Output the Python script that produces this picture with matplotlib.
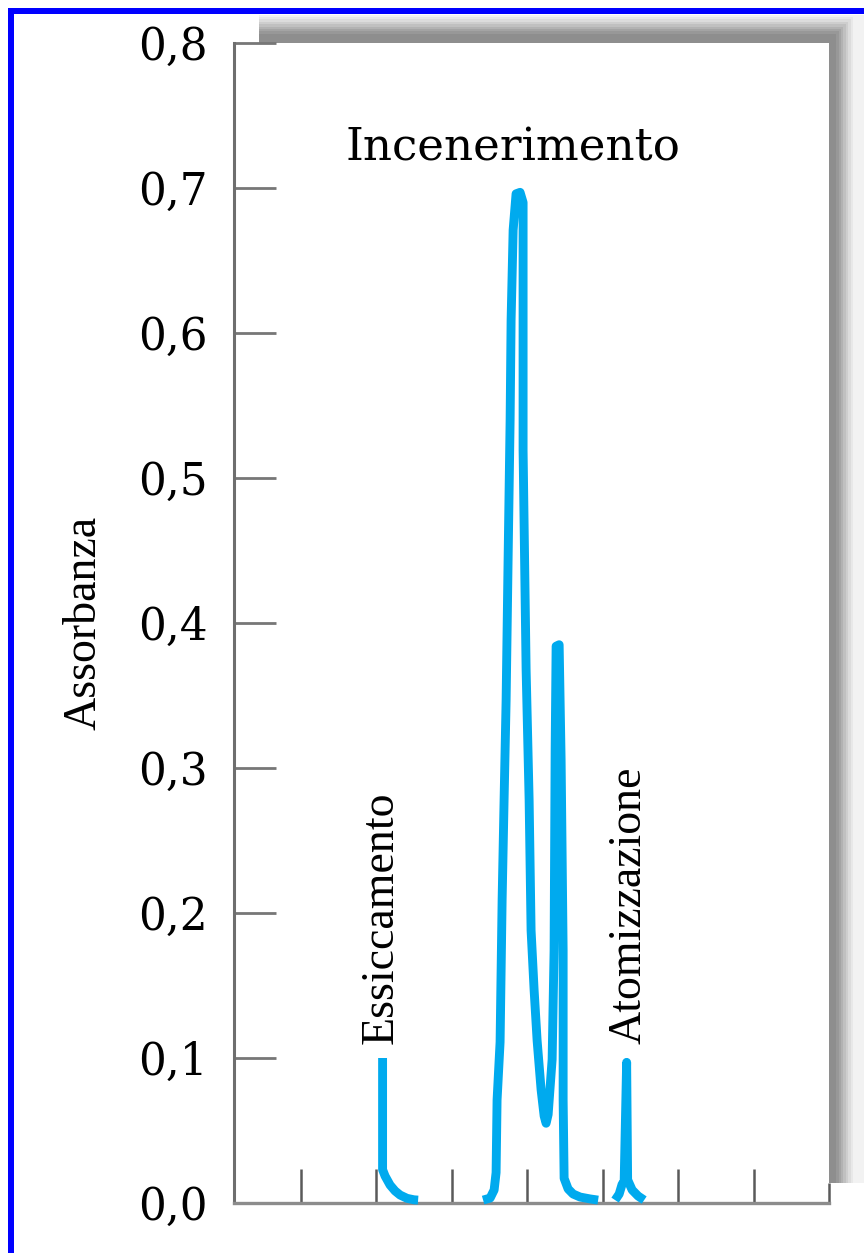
import matplotlib
matplotlib.use("Agg")
import matplotlib.pyplot as plt
from matplotlib.patches import Rectangle

# ---------------- data ----------------
# drying step (Essiccamento)
ess_x = [2.081, 2.081, 2.114, 2.180, 2.247, 2.313, 2.406, 2.499, 2.552]
ess_y = [0.100, 0.023, 0.0186, 0.0124, 0.0083, 0.0055, 0.0032, 0.0022, 0.002]

# ashing step (Incenerimento)
ash_x = [3.414, 3.507, 3.560, 3.586, 3.599, 3.639, 3.666, 3.692, 3.719, 3.745,
         3.772, 3.785, 3.812, 3.851, 3.904, 3.944, 3.944, 3.984, 4.024, 4.050,
         4.090, 4.130, 4.183, 4.223, 4.249, 4.276, 4.329, 4.355, 4.369, 4.382,
         4.422, 4.448, 4.475, 4.475, 4.488, 4.541, 4.607, 4.700, 4.833, 4.939]
ash_y = [0.002, 0.0034, 0.009, 0.021, 0.071, 0.111, 0.209, 0.278, 0.347, 0.443,
         0.540, 0.609, 0.671, 0.696, 0.697, 0.690, 0.519, 0.368, 0.278, 0.188,
         0.147, 0.112, 0.078, 0.060, 0.055, 0.061, 0.099, 0.174, 0.312, 0.384,
         0.385, 0.306, 0.174, 0.071, 0.017, 0.0097, 0.0062, 0.0041, 0.0028, 0.002]

# atomization step (Atomizzazione)
ato_x = [5.164, 5.218, 5.257, 5.284, 5.317, 5.330, 5.390, 5.469, 5.549]
ato_y = [0.002, 0.0062, 0.013, 0.0145, 0.097, 0.016, 0.009, 0.0048, 0.002]

x_ticks = [1, 2, 3, 4, 5, 6, 7]
x_end_tick = [8]
y_ticks = [0.0, 0.1, 0.2, 0.3, 0.4, 0.5, 0.6, 0.7, 0.8]
y_labels = ["0,0", "0,1", "0,2", "0,3", "0,4", "0,5", "0,6", "0,7", "0,8"]

title_text = "Incenerimento"
ylabel_text = "Assorbanza"
step_labels = ["Essiccamento", "Atomizzazione"]

# ---------------- figure ----------------
W, H = 864, 1253
fig = plt.figure(figsize=(W / 100, H / 100), dpi=100)
fig.patch.set_facecolor("white")


def fx(px):
    return px / W


def fy(py):
    return 1 - py / H


def frect(x0, y0, x1, y1, color, z):
    """rectangle from pixel coords (top-left origin)"""
    r = Rectangle((fx(x0), fy(y1)), fx(x1) - fx(x0), fy(y0) - fy(y1),
                  transform=fig.transFigure, facecolor=color,
                  edgecolor="none", zorder=z)
    fig.patches.append(r)


# drop shadow (gradient on top and right sides)
frect(259, 15, 864, 1183, "#f2f2f2", -10)
shades = ["#e8e8e8", "#dcdcdc", "#cecece", "#c0c0c0", "#b2b2b2",
          "#a4a4a4", "#989898", "#8e8e8e"]
for i, c in enumerate(shades):
    right = 853 - i * 2.4
    top = 17 + i * 2.4
    frect(259, top, right, 1183, c, -9 + i * 0.1)

# blue frame
frect(8, 8, 864, 14, "#0000ff", 20)
frect(8, 8, 14, 1253, "#0000ff", 20)

# ---------------- axes ----------------
ax = fig.add_axes([fx(234), fy(1203), fx(829) - fx(234), fy(43) - fy(1203)])
ax.set_facecolor("white")
ax.set_zorder(1)
ax.set_xlim(0.111, 8.0)
ax.set_ylim(0.0, 0.8)

line_color = "#00aaee"
lw = 6.4
for xs, ys in [(ess_x, ess_y), (ash_x, ash_y), (ato_x, ato_y)]:
    ax.plot(xs, ys, color=line_color, lw=lw, solid_joinstyle="round",
            solid_capstyle="butt", clip_on=False, zorder=3)

for s in ["top", "right"]:
    ax.spines[s].set_visible(False)
ax.spines["left"].set_color("#6e6e6e")
ax.spines["left"].set_linewidth(2.2)
ax.spines["bottom"].set_color("#8c8c8c")
ax.spines["bottom"].set_linewidth(2.4)

ax.set_xticks(x_ticks)
ax.set_xticks(x_end_tick, minor=True)
ax.set_xticklabels([])
ax.tick_params(axis="x", which="major", direction="in", length=24.5,
               width=1.8, color="#5a5a5a", labelbottom=False)
ax.tick_params(axis="x", which="minor", direction="in", length=14.4,
               width=1.8, color="#5a5a5a", labelbottom=False)

ax.set_yticks(y_ticks)
ax.set_yticklabels(y_labels, fontfamily="DejaVu Serif", fontsize=31.5)
ax.tick_params(axis="y", direction="in", length=30, width=2.0,
               color="#777777", pad=19, labelcolor="black")

# labels
ax.text(3.81, 0.719, title_text, ha="center", va="baseline",
        fontfamily="DejaVu Serif", fontsize=32.5, color="black")

fig.text(fx(95), fy(623), ylabel_text, rotation=90, rotation_mode="anchor",
         ha="center", va="baseline", fontfamily="Liberation Serif",
         fontsize=33, color="black")

ax.text(2.22, 0.110, step_labels[0], rotation=90, rotation_mode="anchor",
        ha="left", va="baseline", fontfamily="Liberation Serif",
        fontsize=33, color="black")
ax.text(5.50, 0.110, step_labels[1], rotation=90, rotation_mode="anchor",
        ha="left", va="baseline", fontfamily="Liberation Serif",
        fontsize=33, color="black")

fig.savefig("out.png", dpi=100, facecolor="white")
